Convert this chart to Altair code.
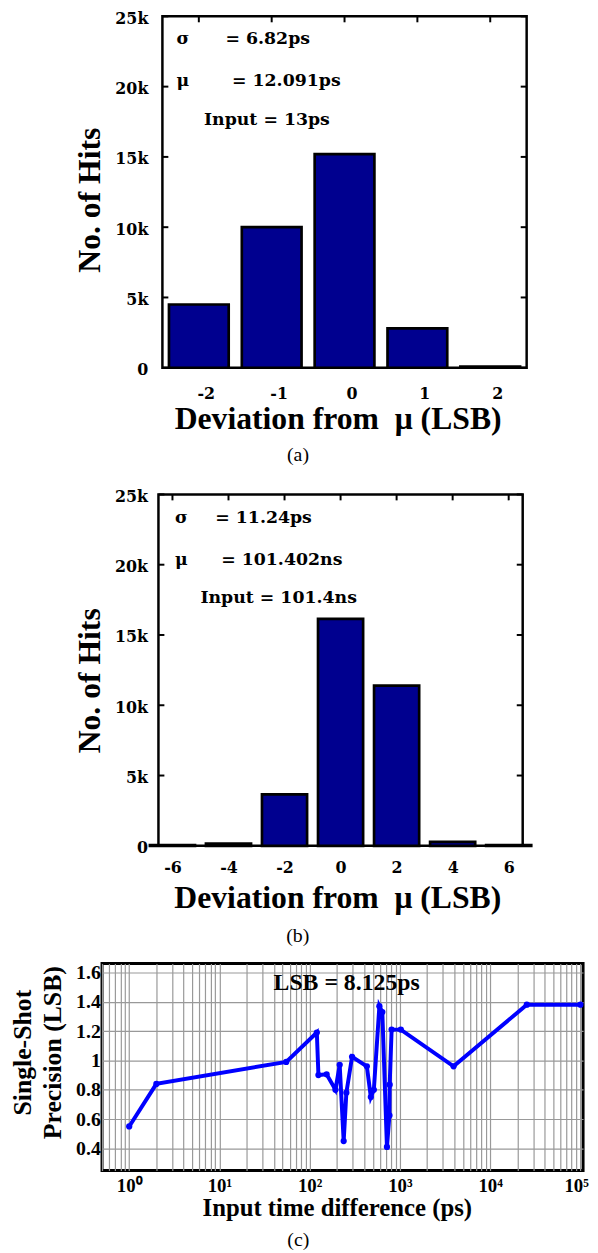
import altair as alt
import pandas as pd

# ---------------- data ----------------
dev_a = [-2, -1, 0, 1, 2]
hits_a = [4500, 10000, 15200, 2800, 80]
dev_b = [-6, -4, -2, 0, 2, 4, 6]
hits_b = [60, 150, 3660, 16150, 11400, 280, 60]

ticks_dev_a = [-2, -1, 0, 1, 2]
ticks_dev_b = [-6, -4, -2, 0, 2, 4, 6]
ticks_hits = [0, 5000, 10000, 15000, 20000, 25000]

input_ps = [1, 2, 55, 120, 125, 154, 193, 215, 238, 255, 295, 430, 476, 514,
            592, 638, 718, 765, 770, 809, 1023, 3930, 25470, 100000]
precision = [0.55, 0.84, 0.99, 1.19, 0.90, 0.905, 0.80, 0.97, 0.45, 0.78, 1.025,
             0.96, 0.75, 0.80, 1.37, 1.33, 0.41, 0.625, 0.835, 1.21, 1.21, 0.96,
             1.38, 1.38]
ticks_prec = [0.4, 0.6, 0.8, 1.0, 1.2, 1.4, 1.6]
decade_mults = [1, 2, 3, 4, 5, 6, 7, 8, 9]
ticks_log = [0.5, 0.6, 0.7, 0.8, 0.9] + [m * 10 ** k for k in range(5) for m in decade_mults] + [100000]

text_a = ["σ", "= 6.82ps", "μ", "= 12.091ps", "Input = 13ps"]
text_b = ["σ", "= 11.24ps", "μ", "= 101.402ns", "Input = 101.4ns"]
xtitle_ab = "Deviation from\u00a0 μ (LSB)"
ytitle_ab = "No. of Hits"
xtitle_c = "Input time difference (ps)"
ytitle_c = ["Single-Shot", "Precision (LSB)"]
lsb_text = "LSB = 8.125ps"
captions = ["(a)", "(b)", "(c)"]

# ---------------- styles ----------------
SERIF = "Liberation Serif"
WIDE = "DejaVu Serif"
BAR = "#00008f"
LINE = "#0000ff"


def txt(s, x, y, font=WIDE, size=17.5, weight="bold", align="left", baseline="alphabetic", color="black"):
    return alt.Chart(pd.DataFrame({"t": [s]})).mark_text(
        font=font, fontSize=size, fontWeight=weight, align=align, baseline=baseline, color=color
    ).encode(text="t:N", x=alt.value(x), y=alt.value(y))


def hist_panel(dev, hits, xticks, half, xdom, W, H, lpx, lpy, lox, tx, ty, ytx, yty,
               texts, tpos, caption, cpos, ext_y):
    df = pd.DataFrame({"dev": dev, "hits": hits})
    xs = alt.Scale(domain=xdom, nice=False, zero=False)
    ys = alt.Scale(domain=[0, 25000], nice=False)
    xax = alt.Axis(values=xticks, labelExpr="'' + datum.value", labelFont=WIDE, labelFontWeight="bold",
                   labelFontSize=16, labelColor="black", labelPadding=lpx, labelOffset=lox,
                   domain=False, ticks=False, tickSize=0, grid=False, labelFlush=False,
                   title=xtitle_ab, titleFont=SERIF, titleFontSize=32, titleFontWeight="bold",
                   titleColor="black", titleX=tx, titleY=ty, titleAlign="center",
                   titleBaseline="alphabetic", titleAngle=0)
    yax = alt.Axis(values=ticks_hits, labelExpr="datum.value == 0 ? '0' : (datum.value / 1000) + 'k'",
                   labelFont=WIDE, labelFontWeight="bold", labelFontSize=16, labelColor="black",
                   labelPadding=lpy, labelOffset=2, domain=False, ticks=False, tickSize=0, grid=False,
                   title=ytitle_ab, titleFont=SERIF, titleFontSize=32, titleFontWeight="bold",
                   titleColor="black", titleX=ytx, titleY=yty, titleAlign="center",
                   titleBaseline="alphabetic", titleAngle=270)
    bars = alt.Chart(df).transform_calculate(
        lo=f"datum.dev - {half}", hi=f"datum.dev + {half}"
    ).mark_bar(color=BAR, stroke="black", strokeWidth=2.7).encode(
        x=alt.X("lo:Q", scale=xs, axis=xax),
        x2="hi:Q",
        y=alt.Y("hits:Q", scale=ys, axis=yax),
        y2=alt.datum(0),
    )
    tdx = pd.DataFrame({"t": xticks})
    tdy = pd.DataFrame({"t": ticks_hits})
    top_t = alt.Chart(tdx).mark_rule(color="black", strokeWidth=2).encode(
        x=alt.X("t:Q", scale=xs, axis=xax), y=alt.value(0), y2=alt.value(6))
    left_t = alt.Chart(tdy).mark_rule(color="black", strokeWidth=2).encode(
        y=alt.Y("t:Q", scale=ys, axis=yax), x=alt.value(0), x2=alt.value(6))
    right_t = alt.Chart(tdy).mark_rule(color="black", strokeWidth=2).encode(
        y=alt.Y("t:Q", scale=ys, axis=yax), x=alt.value(W), x2=alt.value(W - 6))
    anns = [txt(s, p[0], p[1]) for s, p in zip(texts, tpos)]
    cap = txt(caption, cpos[0], cpos[1], font=SERIF, size=20, weight="normal", align="center")
    ext = txt(" ", 20, ext_y, size=10, baseline="bottom", color="white")
    return alt.layer(bars, top_t, left_t, right_t, *anns, cap, ext).properties(
        width=W, height=H, view=alt.ViewBackground(stroke="black", strokeWidth=2.5)
    )


def spacer(w):
    return alt.Chart(pd.DataFrame({"t": [""]})).mark_text().encode(
        text="t:N", x=alt.value(0), y=alt.value(0)
    ).properties(width=w, height=1, view=alt.ViewBackground(stroke="transparent"))


panel_a = hist_panel(
    dev_a, hits_a, ticks_dev_a, 0.41, [-2.5, 2.5], 368, 355,
    lpx=18, lpy=14.7, lox=7, tx=177, ty=61, ytx=-63.7, yty=185.2,
    texts=text_a, tpos=[(14.3, 27.7), (63.7, 27.7), (14.3, 70.5), (70.3, 70.5), (42, 109.3)],
    caption=captions[0], cpos=(137, 449.6), ext_y=473,
)
panel_b = hist_panel(
    dev_b, hits_b, ticks_dev_b, 0.805, [-6.5, 6.5], 368, 355,
    lpx=14.4, lpy=11, lox=0, tx=180.7, ty=62.4, ytx=-60, yty=187.8,
    texts=text_b, tpos=[(16.7, 29), (57.4, 29), (16.7, 71), (63.4, 71), (42.4, 110)],
    caption=captions[1], cpos=(140.7, 452.1), ext_y=469,
)

# ---------------- panel (c) ----------------
WC, HC = 486, 209
dfc = pd.DataFrame({"x": input_ps, "y": precision, "i": list(range(len(input_ps)))})
pow_list = "[1,10,100,1000,10000,100000]"
sup_list = "['\u2070','\u00b9','\u00b2','\u00b3','\u2074','\u2075']"
xax_c = alt.Axis(values=ticks_log,
                 labelExpr=f"indexof({pow_list}, datum.value) >= 0 ? '10' + {sup_list}[indexof({pow_list}, datum.value)] : ''",
                 labelFont=SERIF, labelFontWeight="bold", labelFontSize=19, labelColor="black",
                 labelPadding=6.5, labelOverlap=False, labelFlush=5, labelFlushOffset=8,
                 domain=False, ticks=False, tickSize=0, grid=True, gridColor="#999999", gridWidth=1.2,
                 gridOpacity=1, title=xtitle_c, titleFont=SERIF, titleFontSize=25, titleFontWeight="bold",
                 titleColor="black", titleX=237.2, titleY=46, titleAlign="center",
                 titleBaseline="alphabetic", titleAngle=0)
yax_c = alt.Axis(values=ticks_prec, format="~g", labelFont=SERIF, labelFontWeight="bold", labelFontSize=20,
                 labelColor="black", labelPadding=1.7, domain=False, ticks=False, tickSize=0, grid=True,
                 gridColor="#999999", gridWidth=1.2, gridOpacity=1,
                 title=ytitle_c, titleFont=SERIF, titleFontSize=26, titleFontWeight="bold",
                 titleColor="black", titleX=-72, titleY=89.5, titleAlign="center",
                 titleBaseline="alphabetic", titleAngle=270, titleLineHeight=30)
line_c = alt.Chart(dfc).mark_line(
    color=LINE, strokeWidth=4,
    point=alt.OverlayMarkDef(filled=True, color=LINE, size=40, opacity=1),
).encode(
    x=alt.X("x:Q", scale=alt.Scale(type="log", domain=[0.5, 107000], nice=False), axis=xax_c),
    y=alt.Y("y:Q", scale=alt.Scale(domain=[0.25, 1.66], nice=False, zero=False), axis=yax_c),
    order=alt.Order("i:Q"),
)
lsb = txt(lsb_text, 173.3, 26.7, font=SERIF, size=24)
cap_c = txt(captions[2], 198.3, 285, font=SERIF, size=20, weight="normal", align="center")
panel_c = alt.layer(line_c, lsb, cap_c).properties(
    width=WC, height=HC, view=alt.ViewBackground(stroke="black", strokeWidth=3)
)

chart = alt.vconcat(
    alt.hconcat(spacer(61), panel_a, spacing=0, bounds="flush"),
    alt.hconcat(spacer(57), panel_b, spacing=0, bounds="flush"),
    panel_c,
    spacing=0,
).properties(padding={"top": -6, "left": 0, "right": 0, "bottom": 0}, background="white")

chart.save("out.html", embed_options={"renderer": "svg", "actions": False})
